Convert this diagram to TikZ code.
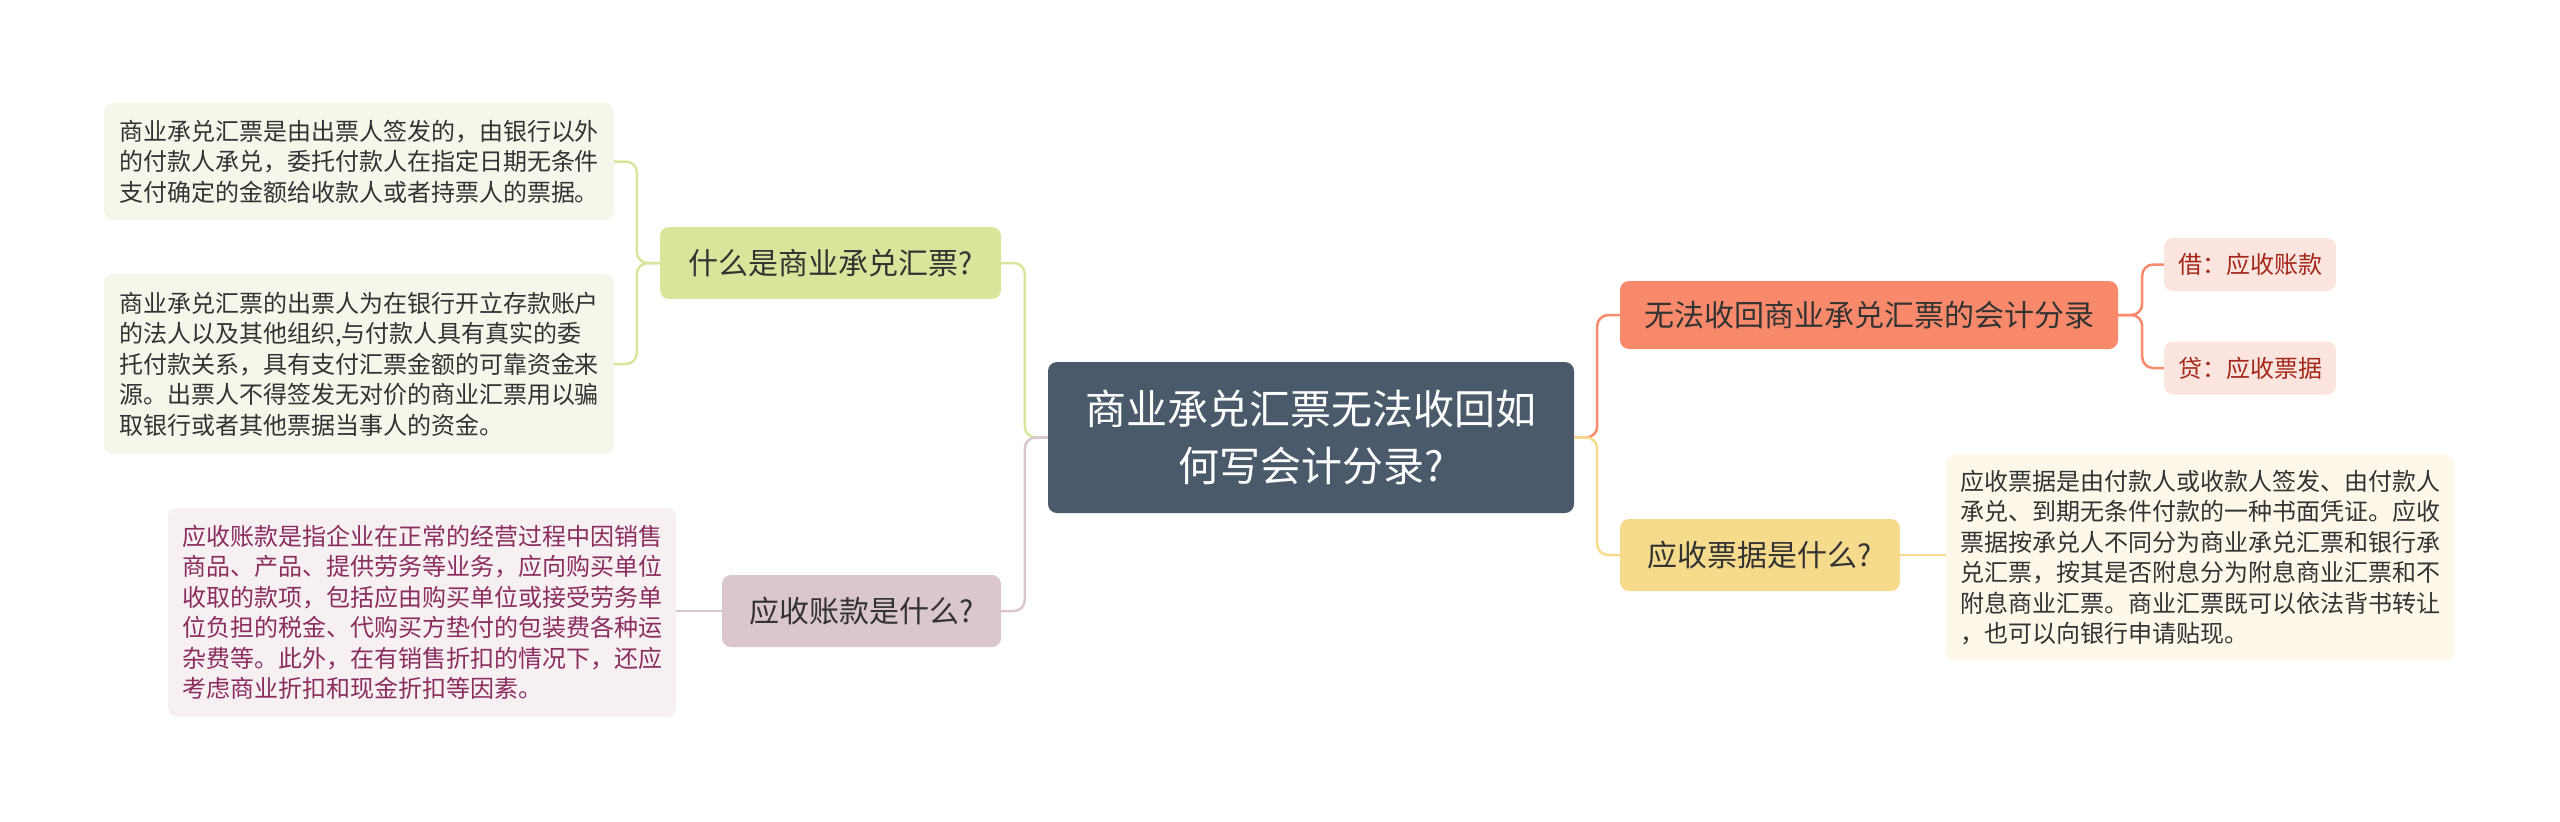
\documentclass[tikz,border=0pt]{standalone}
\usepackage{fontspec}
\setmainfont{Noto Sans CJK SC}

\definecolor{rootfill}{HTML}{4A5A6A}
\definecolor{greenfill}{HTML}{D8E69B}
\definecolor{greenleaf}{HTML}{F4F8EA}
\definecolor{mauvefill}{HTML}{D9C6CF}
\definecolor{mauveleaf}{HTML}{F7F0F3}
\definecolor{mauvetext}{HTML}{8B2D5E}
\definecolor{coralfill}{HTML}{F8896B}
\definecolor{coralleaf}{HTML}{FCE4DF}
\definecolor{coraltext}{HTML}{A3281A}
\definecolor{sandfill}{HTML}{F6DB8D}
\definecolor{sandleaf}{HTML}{FDF8EA}
\definecolor{darktext}{HTML}{333333}

\begin{document}
\begin{tikzpicture}[x=1pt,y=-1pt,
   box/.style={rounded corners=9pt, inner xsep=14pt, inner ysep=0pt, align=left, text=darktext},
   leaftext/.style={box, font=\fontsize{24}{30.5}\selectfont},
   midtext/.style={box, align=center, font=\fontsize{30}{36}\selectfont},
   link/.style={line width=2.5pt, rounded corners=11pt}]

   \useasboundingbox (0,0) rectangle (2560,822);

   % centre
   \node[box, align=center, fill=rootfill, text=white, minimum width=526pt, minimum height=151pt,
         font=\fontsize{41}{57}\selectfont] (root) at (1311,437.5)
         {商业承兑汇票无法收回如\\何写会计分录?};

   % left side
   \node[midtext, fill=greenfill, minimum width=341pt, minimum height=72pt] (what) at (830.5,263) {什么是商业承兑汇票?};
   \node[midtext, fill=mauvefill, minimum width=279pt, minimum height=72pt] (askar) at (861.5,611) {应收账款是什么?};

   \node[leaftext, fill=greenleaf, minimum width=510pt, minimum height=117pt] (defa) at (359,161.5)
      {商业承兑汇票是由出票人签发的，由银行以外\\的付款人承兑，委托付款人在指定日期无条件\\支付确定的金额给收款人或者持票人的票据。};
   \node[leaftext, fill=greenleaf, minimum width=510pt, minimum height=180pt] (defb) at (359,364)
      {商业承兑汇票的出票人为在银行开立存款账户\\的法人以及其他组织,与付款人具有真实的委\\托付款关系，具有支付汇票金额的可靠资金来\\源。出票人不得签发无对价的商业汇票用以骗\\取银行或者其他票据当事人的资金。};
   \node[leaftext, fill=mauveleaf, text=mauvetext, minimum width=508pt, minimum height=209pt] (defar) at (422,612.5)
      {应收账款是指企业在正常的经营过程中因销售\\商品、产品、提供劳务等业务，应向购买单位\\收取的款项，包括应由购买单位或接受劳务单\\位负担的税金、代购买方垫付的包装费各种运\\杂费等。此外，在有销售折扣的情况下，还应\\考虑商业折扣和现金折扣等因素。};

   % right side
   \node[midtext, fill=coralfill, minimum width=498pt, minimum height=68pt] (entry) at (1869,315) {无法收回商业承兑汇票的会计分录};
   \node[midtext, fill=sandfill, minimum width=280pt, minimum height=72pt] (asknr) at (1760,555) {应收票据是什么?};

   \node[leaftext, align=center, fill=coralleaf, text=coraltext, minimum width=170pt, minimum height=53pt] (debit) at (2250,264.5) {借：应收账款};
   \node[leaftext, align=center, fill=coralleaf, text=coraltext, minimum width=170pt, minimum height=53pt] (credit) at (2250,368) {贷：应收票据};
   \node[leaftext, fill=sandleaf, minimum width=508pt, minimum height=207pt] (defnr) at (2200,557.5)
      {应收票据是由付款人或收款人签发、由付款人\\承兑、到期无条件付款的一种书面凭证。应收\\票据按承兑人不同分为商业承兑汇票和银行承\\兑汇票，按其是否附息分为附息商业汇票和不\\附息商业汇票。商业汇票既可以依法背书转让\\，也可以向银行申请贴现。};

   % connectors
   \draw[link, greenfill] (root.west) -- ++(-23,0) |- (what.east);
   \draw[link, mauvefill] (root.west) -- ++(-23,0) |- (askar.east);
   \draw[link, greenfill] (what.west) -- ++(-23,0) |- (defa.east);
   \draw[link, greenfill] (what.west) -- ++(-23,0) |- (defb.east);
   \draw[link, mauvefill] (askar.west) -- (askar.west -| defar.east);

   \draw[link, coralfill] (root.east) -- ++(23,0) |- (entry.west);
   \draw[link, sandfill] (root.east) -- ++(23,0) |- (asknr.west);
   \draw[link, coralfill] (entry.east) -- ++(24,0) |- (debit.west);
   \draw[link, coralfill] (entry.east) -- ++(24,0) |- (credit.west);
   \draw[link, sandfill] (asknr.east) -- (asknr.east -| defnr.west);

\end{tikzpicture}
\end{document}
